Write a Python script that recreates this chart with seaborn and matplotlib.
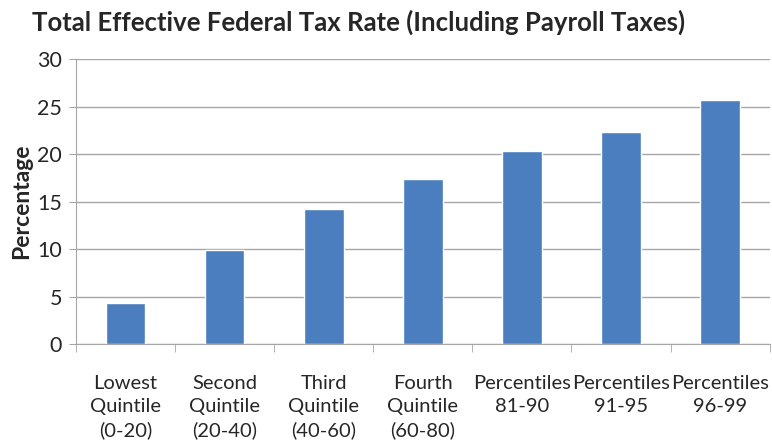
import pandas as pd
import matplotlib.pyplot as plt
import seaborn as sns

groups = [
    "Lowest\nQuintile\n(0-20)",
    "Second\nQuintile\n(20-40)",
    "Third\nQuintile\n(40-60)",
    "Fourth\nQuintile\n(60-80)",
    "Percentiles\n81-90",
    "Percentiles\n91-95",
    "Percentiles\n96-99",
]
rates = [4.3, 9.9, 14.2, 17.4, 20.3, 22.3, 25.7]

df = pd.DataFrame({"group": groups, "rate": rates})

sns.set_style("white")
plt.rcParams["font.family"] = ["Lato", "DejaVu Sans"]

fig = plt.figure(figsize=(7.72, 4.46), dpi=100)
ax = fig.add_axes([0.0984, 0.2287, 0.8986, 0.639])

sns.barplot(data=df, x="group", y="rate", color="#4a7ebe", width=0.4,
            saturation=1, ax=ax)

ax.set_ylim(0, 30)
ax.set_yticks(range(0, 31, 5))
ax.set_xlim(-0.5, len(groups) - 0.5)
ax.yaxis.grid(True, color="#a6a6a6", linewidth=1)
ax.set_axisbelow(True)

for s in ["top", "right"]:
    ax.spines[s].set_visible(False)
ax.spines["left"].set_color("#a6a6a6")
ax.spines["bottom"].set_color("#a6a6a6")

ax.tick_params(axis="x", length=0, pad=22, labelsize=14.5)
ax.tick_params(axis="y", left=True, length=5, color="#a6a6a6", labelsize=15.5, pad=5)
ax.set_xticks(range(len(groups)))
ax.set_xticklabels(groups, linespacing=1.45)
ax.set_xticks([i - 0.5 for i in range(len(groups) + 1)], minor=True)
ax.tick_params(axis="x", which="minor", bottom=True, length=6, color="#a6a6a6")

ax.set_xlabel("")
ax.set_ylabel("Percentage", fontsize=16.5, fontweight="bold", labelpad=4)

fig.text(359 / 772, 1 - 22 / 446, "Total Effective Federal Tax Rate (Including Payroll Taxes)",
         ha="center", va="center", fontsize=18.5, fontweight="bold")

fig.savefig("out.png", dpi=100)
